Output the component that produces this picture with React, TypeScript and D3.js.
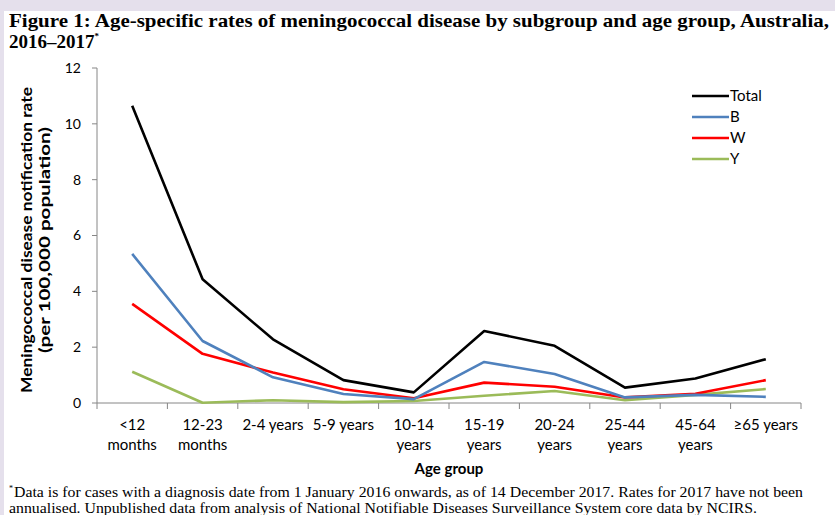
import React from "react";
import * as d3 from "d3";

const categories: string[][] = [
  ["<12", "months"],
  ["12-23", "months"],
  ["2-4 years"],
  ["5-9 years"],
  ["10-14", "years"],
  ["15-19", "years"],
  ["20-24", "years"],
  ["25-44", "years"],
  ["45-64", "years"],
  ["≥65 years"],
];

const totalValues = [10.65, 4.43, 2.28, 0.82, 0.38, 2.58, 2.05, 0.55, 0.88, 1.57];
const bValues = [5.34, 2.22, 0.92, 0.32, 0.14, 1.47, 1.04, 0.2, 0.29, 0.22];
const wValues = [3.55, 1.76, 1.09, 0.49, 0.17, 0.73, 0.58, 0.2, 0.33, 0.82];
const yValues = [1.12, 0.01, 0.1, 0.03, 0.07, 0.26, 0.43, 0.1, 0.29, 0.5];

const seriesNames = ["Total", "B", "W", "Y"];
const seriesColors = ["#000000", "#4f81bd", "#ff0000", "#9bbb59"];
const seriesData = [totalValues, bValues, wValues, yValues];

const yTicks = [0, 2, 4, 6, 8, 10, 12];

const W = 835;
const H = 515;
const x0 = 97;
const x1 = 801;
const yTop = 68;
const yBot = 403;
const font = "Lato, 'Open Sans', sans-serif";
const serif = "'Liberation Serif', 'Times New Roman', serif";

export default function App() {
  const idx = categories.map((_, i) => String(i));
  const x = d3.scaleBand<string>().domain(idx).range([x0, x1]).padding(0);
  const y = d3.scaleLinear().domain([0, 12]).range([yBot, yTop]);
  const cx = (i: number) => (x(String(i)) as number) + x.bandwidth() / 2;
  const line = d3
    .line<number>()
    .x((_, i) => cx(i))
    .y((d) => y(d));

  const boundaries = d3.range(categories.length + 1).map((i) => x0 + i * x.bandwidth());

  return (
    <svg
      width={W}
      height={H}
      style={{ position: "absolute", left: 0, top: 0, display: "block" }}
    >
      <rect x={0} y={0} width={W} height={H} fill="#e5e0ec" />
      <rect x={4} y={11} width={W - 4} height={H - 11} fill="#ffffff" />

      {/* Title */}
      <text
        x={9}
        y={27}
        fontFamily={serif}
        fontWeight="bold"
        fontSize={19}
        textLength={820}
        lengthAdjust="spacingAndGlyphs"
      >
        Figure 1: Age-specific rates of meningococcal disease by subgroup and age group, Australia,
      </text>
      <text x={9} y={48} fontFamily={serif} fontWeight="bold" fontSize={19}>
        2016–2017
        <tspan dy={-9} fontSize={9}>
          *
        </tspan>
      </text>

      {/* Y axis */}
      <line x1={x0} x2={x0} y1={yTop} y2={yBot} stroke="#868686" strokeWidth={1} />
      {yTicks.map((t) => (
        <g key={t}>
          <line x1={x0 - 5} x2={x0} y1={y(t)} y2={y(t)} stroke="#868686" />
          <text
            x={x0 - 16}
            y={y(t)}
            dy="0.35em"
            textAnchor="end"
            fontFamily={font}
            fontSize={14}
            fill="#000"
          >
            {t}
          </text>
        </g>
      ))}

      {/* X axis */}
      <line x1={x0} x2={x1} y1={yBot} y2={yBot} stroke="#868686" strokeWidth={1} />
      {boundaries.map((b, i) => (
        <line key={i} x1={b} x2={b} y1={yBot} y2={yBot + 6} stroke="#868686" />
      ))}
      {categories.map((c, i) => (
        <text
          key={i}
          x={cx(i)}
          y={430}
          textAnchor="middle"
          fontFamily={font}
          fontSize={15}
          fill="#000"
        >
          {c.map((s, j) => (
            <tspan key={j} x={cx(i)} dy={j === 0 ? 0 : 19.5}>
              {s}
            </tspan>
          ))}
        </text>
      ))}

      {/* Axis titles */}
      <text
        x={(x0 + x1) / 2}
        y={474}
        textAnchor="middle"
        fontFamily={font}
        fontWeight="bold"
        fontSize={15}
      >
        Age group
      </text>
      <text
        transform={`translate(32,240) rotate(-90)`}
        textAnchor="middle"
        fontFamily={font}
        fontWeight="bold"
        fontSize={15}
        textLength={306}
        lengthAdjust="spacingAndGlyphs"
      >
        Meningococcal disease notification rate
      </text>
      <text
        transform={`translate(50,240) rotate(-90)`}
        textAnchor="middle"
        fontFamily={font}
        fontWeight="bold"
        fontSize={15}
        textLength={226}
        lengthAdjust="spacingAndGlyphs"
      >
        (per 100,000 population)
      </text>

      {/* Lines */}
      {[...seriesData].reverse().map((d, k) => {
        const i = seriesData.length - 1 - k;
        return (
          <path
            key={seriesNames[i]}
            d={line(d) as string}
            fill="none"
            stroke={seriesColors[i]}
            strokeWidth={2.6}
            strokeLinejoin="round"
          />
        );
      })}

      {/* Legend */}
      {seriesNames.map((n, i) => (
        <g key={n}>
          <line
            x1={692}
            x2={729}
            y1={96 + i * 21}
            y2={96 + i * 21}
            stroke={seriesColors[i]}
            strokeWidth={2.6}
          />
          <text x={730} y={96 + i * 21} dy="0.35em" fontFamily={font} fontSize={15}>
            {n}
          </text>
        </g>
      ))}

      {/* Footnote */}
      <text x={9} y={491} fontFamily={serif} fontSize={8}>
        *
      </text>
      <text
        x={14}
        y={497}
        fontFamily={serif}
        fontSize={15}
        textLength={789}
        lengthAdjust="spacingAndGlyphs"
      >
        Data is for cases with a diagnosis date from 1 January 2016 onwards, as of 14 December 2017. Rates for 2017 have not been
      </text>
      <text
        x={9}
        y={513}
        fontFamily={serif}
        fontSize={15}
        textLength={748}
        lengthAdjust="spacingAndGlyphs"
      >
        annualised. Unpublished data from analysis of National Notifiable Diseases Surveillance System core data by NCIRS.
      </text>
    </svg>
  );
}
